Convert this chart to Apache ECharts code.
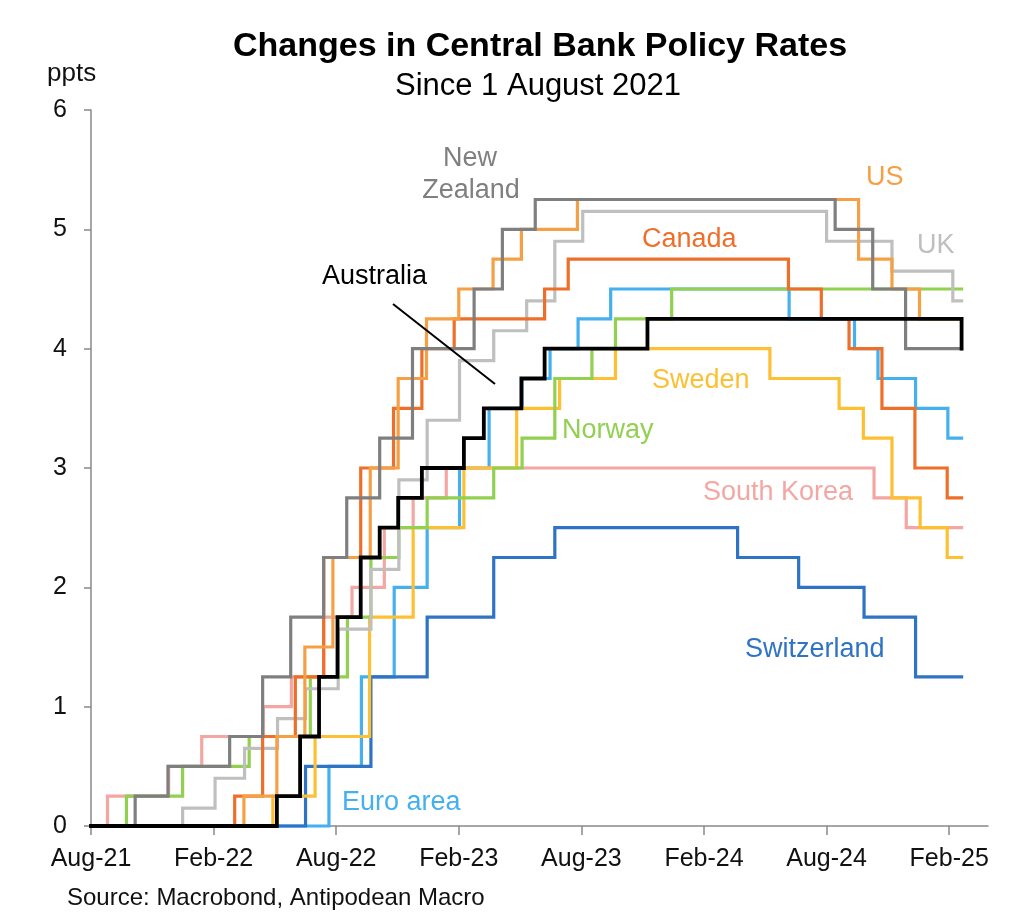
<!DOCTYPE html>
<html><head><meta charset="utf-8">
<script src="https://cdn.jsdelivr.net/npm/echarts@6/dist/echarts.min.js"></script>
<style>html,body{margin:0;padding:0;background:#fff}#c{width:1024px;height:924px}</style>
</head><body><div id="c"></div>
<script>
// Tick labels (every 6 months from Aug-21)
const xTickLabels = ['Aug-21','Feb-22','Aug-22','Feb-23','Aug-23','Feb-24','Aug-24','Feb-25'];
const yTickValues = [0,1,2,3,4,5,6];

// Cumulative change in policy rate (ppts) since 1 August 2021, at each change date
const euroArea = [['2021-08-01',0],['2022-07-21',0.5],['2022-09-08',1.25],['2022-10-27',2.0],['2022-12-15',2.5],['2023-02-02',3.0],['2023-03-16',3.5],['2023-05-04',3.75],['2023-06-15',4.0],['2023-07-27',4.25],['2023-09-14',4.5],['2024-06-06',4.25],['2024-09-12',4.0],['2024-10-17',3.75],['2024-12-12',3.5],['2025-01-30',3.25],['2025-02-18',3.25]];
const switzerland = [['2021-08-01',0],['2022-06-16',0.5],['2022-09-22',1.25],['2022-12-15',1.75],['2023-03-23',2.25],['2023-06-22',2.5],['2024-03-21',2.25],['2024-06-20',2.0],['2024-09-26',1.75],['2024-12-12',1.25],['2025-02-18',1.25]];
const southKorea = [['2021-08-01',0],['2021-08-26',0.25],['2021-11-25',0.5],['2022-01-14',0.75],['2022-04-14',1.0],['2022-05-26',1.25],['2022-07-13',1.75],['2022-08-25',2.0],['2022-10-12',2.5],['2022-11-24',2.75],['2023-01-13',3.0],['2024-10-11',2.75],['2024-11-28',2.5],['2025-02-18',2.5]];
const sweden = [['2021-08-01',0],['2022-04-28',0.25],['2022-06-30',0.75],['2022-09-20',1.75],['2022-11-24',2.5],['2023-02-08',3.0],['2023-04-26',3.5],['2023-06-29',3.75],['2023-09-21',4.0],['2024-05-08',3.75],['2024-08-20',3.5],['2024-09-25',3.25],['2024-11-07',2.75],['2024-12-19',2.5],['2025-01-29',2.25],['2025-02-18',2.25]];
const norway = [['2021-08-01',0],['2021-09-23',0.25],['2021-12-16',0.5],['2022-03-24',0.75],['2022-06-23',1.25],['2022-08-18',1.75],['2022-09-22',2.25],['2022-11-03',2.5],['2022-12-15',2.75],['2023-03-23',3.0],['2023-05-04',3.25],['2023-06-22',3.75],['2023-08-17',4.0],['2023-09-21',4.25],['2023-12-14',4.5],['2025-02-18',4.5]];
const uk = [['2021-08-01',0],['2021-12-16',0.15],['2022-02-03',0.4],['2022-03-17',0.65],['2022-05-05',0.9],['2022-06-16',1.15],['2022-08-04',1.65],['2022-09-22',2.15],['2022-11-03',2.9],['2022-12-15',3.4],['2023-02-02',3.9],['2023-03-23',4.15],['2023-05-11',4.4],['2023-06-22',4.9],['2023-08-03',5.15],['2024-08-01',4.9],['2024-11-07',4.65],['2025-02-06',4.4],['2025-02-18',4.4]];
const canada = [['2021-08-01',0],['2022-03-02',0.25],['2022-04-13',0.75],['2022-06-01',1.25],['2022-07-13',2.25],['2022-09-07',3.0],['2022-10-26',3.5],['2022-12-07',4.0],['2023-01-25',4.25],['2023-06-07',4.5],['2023-07-12',4.75],['2024-06-05',4.5],['2024-07-24',4.25],['2024-09-04',4.0],['2024-10-23',3.5],['2024-12-11',3.0],['2025-01-29',2.75],['2025-02-18',2.75]];
const us = [['2021-08-01',0],['2022-03-16',0.25],['2022-05-04',0.75],['2022-06-15',1.5],['2022-07-27',2.25],['2022-09-21',3.0],['2022-11-02',3.75],['2022-12-14',4.25],['2023-02-01',4.5],['2023-03-22',4.75],['2023-05-03',5.0],['2023-07-26',5.25],['2024-09-18',4.75],['2024-11-07',4.5],['2024-12-18',4.25],['2025-02-18',4.25]];
const newZealand = [['2021-08-01',0],['2021-10-06',0.25],['2021-11-24',0.5],['2022-02-23',0.75],['2022-04-13',1.25],['2022-05-25',1.75],['2022-07-13',2.25],['2022-08-17',2.75],['2022-10-05',3.25],['2022-11-23',4.0],['2023-02-22',4.5],['2023-04-05',5.0],['2023-05-24',5.25],['2024-08-14',5.0],['2024-10-09',4.5],['2024-11-27',4.0],['2025-02-18',4.0]];
const australia = [['2021-08-01',0],['2022-05-04',0.25],['2022-06-08',0.75],['2022-07-06',1.25],['2022-08-03',1.75],['2022-09-07',2.25],['2022-10-05',2.5],['2022-11-02',2.75],['2022-12-07',3.0],['2023-02-08',3.25],['2023-03-08',3.5],['2023-05-03',3.75],['2023-06-07',4.0],['2023-11-08',4.25],['2025-02-18',4.0]];

// months since 1 Aug 2021
function toMonths(s){
  const p = s.split('-').map(Number);
  const dim = new Date(p[0], p[1], 0).getDate();
  return (p[0]-2021)*12 + (p[1]-8) + (p[2]-1)/dim;
}
function conv(arr){ return arr.map(d => [toMonths(d[0]), d[1]]); }

const FONT = "'Liberation Sans', Arial, Helvetica, sans-serif";
const seriesDefs = [
  {name:'Euro area', data:euroArea, color:'#45B0EE', w:3.2},
  {name:'Switzerland', data:switzerland, color:'#2E73C4', w:3.2},
  {name:'South Korea', data:southKorea, color:'#F4A7A2', w:3.2},
  {name:'Sweden', data:sweden, color:'#FDC033', w:3.2},
  {name:'Norway', data:norway, color:'#92D050', w:3.2},
  {name:'UK', data:uk, color:'#BFBFBF', w:3.2},
  {name:'Canada', data:canada, color:'#EE6F2A', w:3.2},
  {name:'US', data:us, color:'#F6A045', w:3.2},
  {name:'New Zealand', data:newZealand, color:'#7F7F7F', w:3.2},
  {name:'Australia', data:australia, color:'#000000', w:3.8}
];

const chart = echarts.init(document.getElementById('c'), null, {renderer:'canvas'});
const tickMonths = xTickLabels.map((_, i) => i*6);

function txt(text, x, y, size, color, opts){
  return {type:'text', x:x, y:y, z:100, style:{text:text, fill:color, font: (opts && opts.bold ? 'bold ' : '') + size + 'px ' + FONT, textAlign:(opts && opts.align) || 'left', textVerticalAlign:'middle'}};
}

const option = {
  animation:false,
  backgroundColor:'#fff',
  grid:{left:91, right:36, top:110, bottom:98, containLabel:false},
  xAxis:{
    type:'value', min:0, max:43.9, interval:6,
    axisLine:{show:true, lineStyle:{color:'#898989', width:1.5}},
    axisTick:{show:true, inside:false, length:9, lineStyle:{color:'#898989', width:1.5}, customValues: tickMonths},
    axisLabel:{customValues: tickMonths, margin:21, fontSize:25, fontFamily:FONT, color:'#111',
      formatter: v => xTickLabels[Math.round(v/6)] || ''},
    splitLine:{show:false}
  },
  yAxis:{
    type:'value', min:0, max:6, interval:1,
    axisLine:{show:true, lineStyle:{color:'#898989', width:1.5}},
    axisTick:{show:true, inside:false, length:7, lineStyle:{color:'#898989', width:1.5}},
    axisLabel:{margin:24, fontSize:25, fontFamily:FONT, color:'#111'},
    splitLine:{show:false}
  },
  series: seriesDefs.map(s => ({
    name:s.name, type:'line', step:'end', symbol:'none', data:conv(s.data),
    lineStyle:{color:s.color, width:s.w, join:'miter', cap:'square'}, itemStyle:{color:s.color},
    emphasis:{disabled:true}, clip:false
  })),
  graphic:[
    txt('Changes in Central Bank Policy Rates', 540, 47, 34, '#000', {bold:true, align:'center'}),
    txt('Since 1 August 2021', 538, 86, 31, '#000', {align:'center'}),
    txt('ppts', 47, 74, 26, '#111'),
    txt('Source: Macrobond, Antipodean Macro', 67, 898, 24, '#111'),
    txt('New', 470, 159, 27, '#7F7F7F', {align:'center'}),
    txt('Zealand', 471, 191, 27, '#7F7F7F', {align:'center'}),
    txt('US', 866, 178, 27, '#F6A045'),
    txt('UK', 917, 246, 27, '#BFBFBF'),
    txt('Canada', 642, 240, 27, '#EE6F2A'),
    txt('Australia', 322, 277, 27, '#000'),
    txt('Sweden', 652, 381, 27, '#FDC033'),
    txt('Norway', 562, 431, 27, '#92D050'),
    txt('South Korea', 703, 493, 27, '#F4A7A2'),
    txt('Switzerland', 745, 650, 27, '#2E73C4'),
    txt('Euro area', 342, 803, 27, '#45B0EE'),
    {type:'line', z:100, shape:{x1:393, y1:304, x2:495, y2:384}, style:{stroke:'#000', lineWidth:2}}
  ]
};
chart.setOption(option);
</script>
</body></html>
